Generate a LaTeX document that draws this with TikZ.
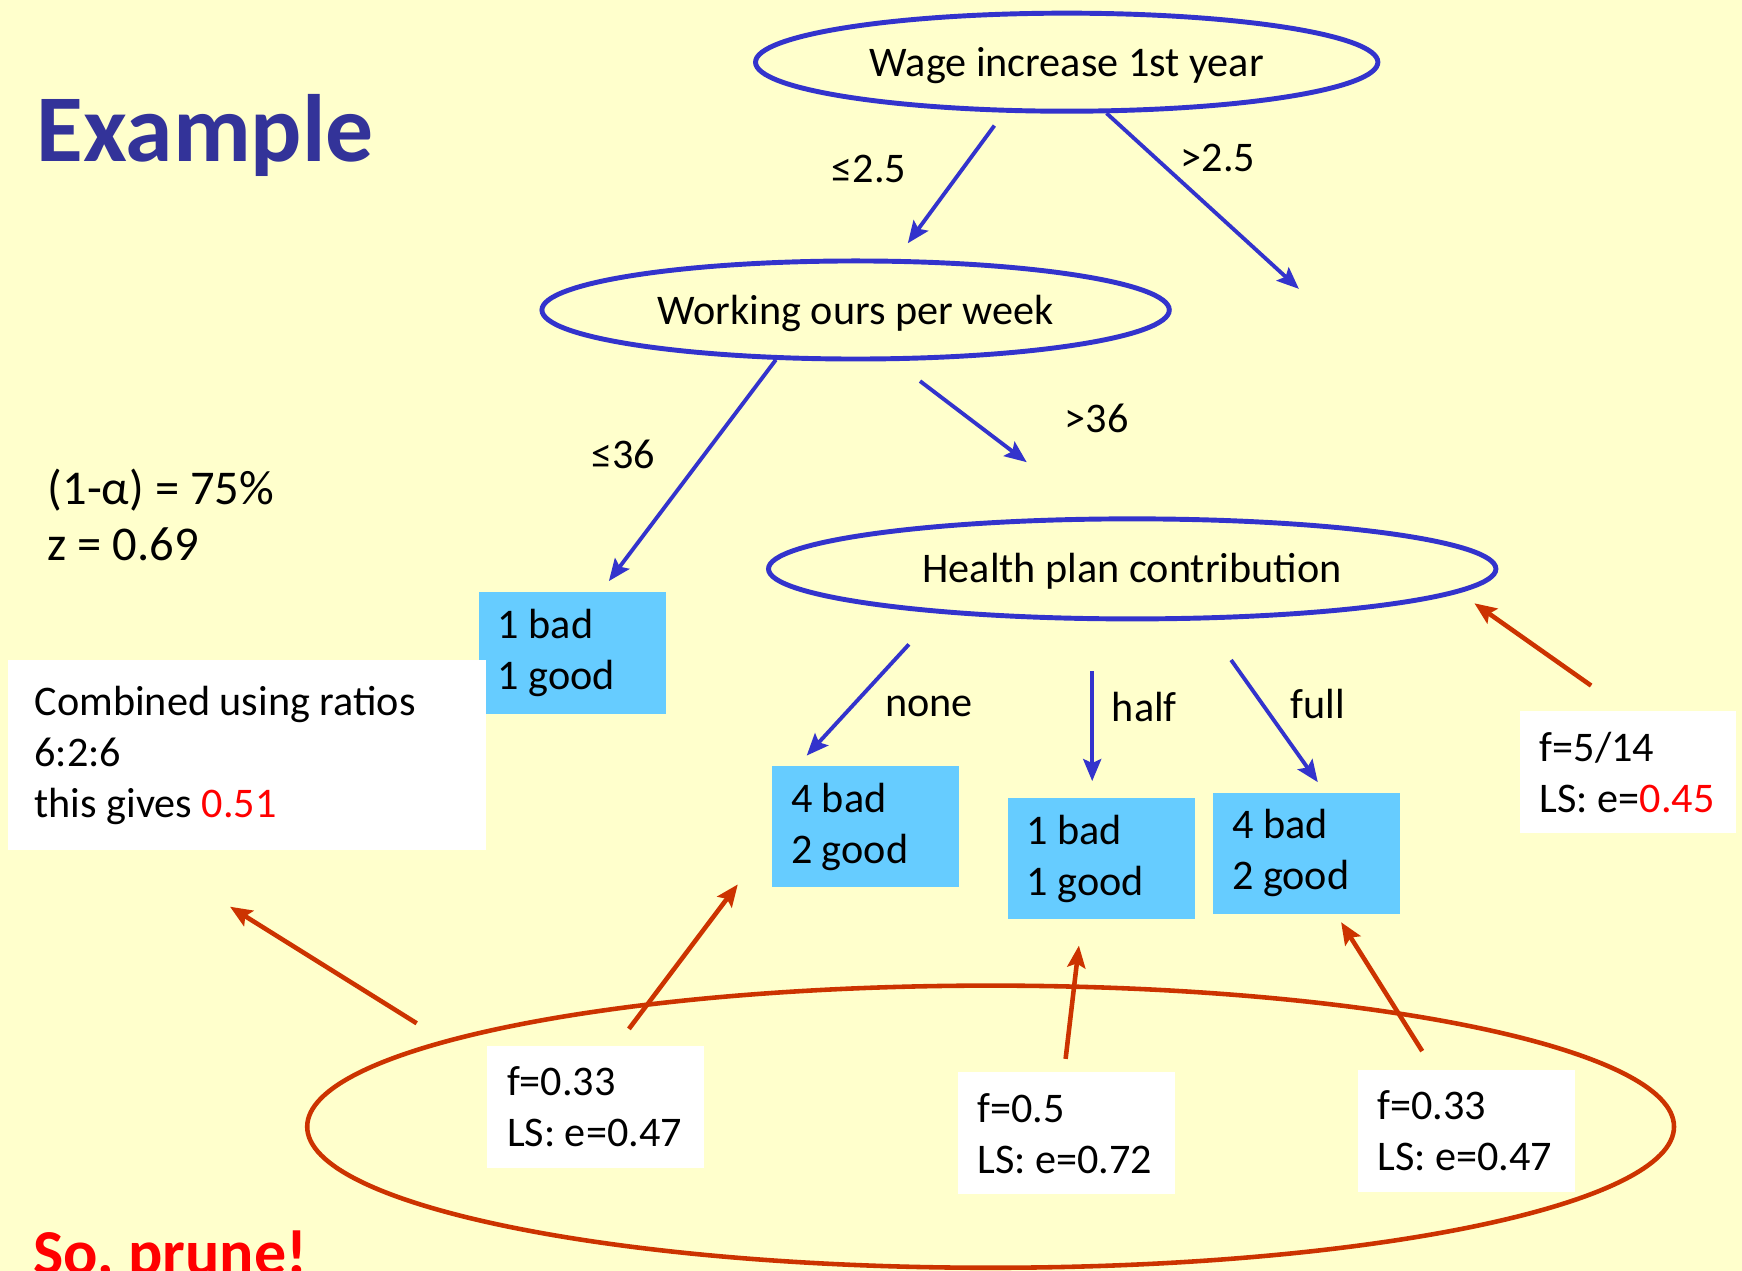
\documentclass[tikz,border=0pt]{standalone}
\usepackage{fontspec}
\setmainfont{Carlito}
\frenchspacing
\usetikzlibrary{shapes.geometric,arrows.meta}
\definecolor{slidebg}{HTML}{FFFFCC}
\definecolor{treeblue}{HTML}{3333CC}
\definecolor{leafblue}{HTML}{66CCFF}
\definecolor{notered}{HTML}{CC3300}
\definecolor{titleblue}{HTML}{333399}
\definecolor{hotred}{HTML}{FF0000}
\tikzset{
  test/.style={ellipse,draw=treeblue,line width=1.4pt,inner sep=0pt,font=\fontsize{12}{14.5}\selectfont,text height=1.0em,text depth=0.2em},
  leaf/.style={fill=leafblue,text width=1.49cm,inner xsep=0.19cm,minimum height=1.21cm,align=flush left},
  note/.style={fill=white,text width=1.77cm,inner xsep=0.2cm,minimum height=1.22cm,align=flush left},
  split/.style={treeblue,line width=1.1pt,-{Stealth[length=2.2mm,width=1.8mm,inset=0.4mm]}},
  back/.style={notered,line width=1.3pt,-{Stealth[length=2.2mm,width=1.8mm,inset=0.4mm]}}
}
\begin{document}
\begin{tikzpicture}[x=0.01cm,y=-0.01cm,font=\fontsize{12}{14.5}\selectfont]
  \useasboundingbox[fill=slidebg] (0,0) rectangle (1742,1271);
  \draw
    (36,162) node[anchor=base west,inner sep=0pt,text=titleblue,font=\fontsize{27.2}{30}\selectfont\bfseries] (title){Example}
    (47,505) node[anchor=base west,inner sep=0pt,font=\fontsize{13.8}{16}\selectfont] (alpha){(1-α) = 75\%}
    (47,561) node[anchor=base west,inner sep=0pt,font=\fontsize{13.8}{16}\selectfont] (zval){z = 0.69}
    (33,1275) node[anchor=base west,inner sep=0pt,text=hotred,font=\fontsize{18.2}{22}\selectfont\bfseries] (prune){So, prune!};
  \draw
    (1066.7,62.2) node[test,minimum width=6.22cm,minimum height=0.98cm] (wage){Wage increase 1st year}
    (855.6,310) node[test,minimum width=6.27cm,minimum height=0.98cm] (hours){Working ours per week}
    (1132.2,568.9) node[test,minimum width=7.27cm,minimum height=1.0cm] (health){Health plan contribution};
  \draw
    (572.3,653) node[leaf] (short){1 bad\\1 good}
    (865.6,826.5) node[leaf] (none){4 bad\\2 good}
    (1101.2,858.8) node[leaf] (half){1 bad\\1 good}
    (1306.7,853.2) node[leaf] (full){4 bad\\2 good};
  \draw
    (868.9,168.9) node (lwl){≤2.5}
    (1217.8,157.8) node (lwr){>2.5}
    (623.3,454.4) node (lhl){≤36}
    (1096.7,418.9) node (lhr){>36}
    (928.9,706.7) node (lnone){none}
    (1144.4,706.7) node (lhalf){half}
    (1317.8,704.4) node (lfull){full};
  \draw
    (990.6,1126.7) node[ellipse,draw=notered,line width=1.3pt,minimum width=13.66cm,minimum height=2.82cm] (subtree){}
    (246.7,755) node[fill=white,text width=4.24cm,inner xsep=0.27cm,minimum height=1.9cm,align=flush left] (combined){Combined using ratios\\6:2:6\\this gives \textcolor{hotred}{0.51}}
    (1627.8,772.2) node[note,text width=1.76cm] (ftop){f=5/14\\LS: e=\textcolor{hotred}{0.45}}
    (595.6,1106.7) node[note] (fnone){f=0.33\\LS: e=0.47}
    (1066.1,1133.3) node[note] (fhalf){f=0.5\\LS: e=0.72}
    (1466.1,1131.1) node[note] (ffull){f=0.33\\LS: e=0.47};
  \coordinate (a1) at (994.4,125.6);
  \coordinate (a2) at (907.8,243.3);
  \coordinate (b2) at (1298.9,288.9);
  \coordinate (c2) at (608.9,581.1);
  \coordinate (d1) at (920,381.1);
  \coordinate (d2) at (1026.7,462.2);
  \coordinate (e1) at (908.9,644.4);
  \coordinate (e2) at (806.7,755.6);
  \coordinate (f1) at (1092.2,671.1);
  \coordinate (f2) at (1092.2,781.1);
  \coordinate (g1) at (1231.1,660);
  \coordinate (g2) at (1317.8,782.2);
  \begin{scope}[split]
    \draw (a1) -- (a2);
    \draw (wage.-52) -- (b2);
    \draw (hours.212) -- (c2);
    \draw (d1) -- (d2);
    \draw (e1) -- (e2);
    \draw (f1) -- (f2);
    \draw (g1) -- (g2);
  \end{scope}
  \coordinate (p1) at (1591.1,685.6);
  \coordinate (p2) at (1474.4,603.3);
  \coordinate (q1) at (416.7,1023.3);
  \coordinate (q2) at (230,906.7);
  \coordinate (r1) at (628.9,1028.9);
  \coordinate (r2) at (737.8,884.4);
  \coordinate (s1) at (1065.6,1058.9);
  \coordinate (s2) at (1078.9,945.6);
  \coordinate (t1) at (1422.2,1051.1);
  \coordinate (t2) at (1341.1,922.2);
  \begin{scope}[back]
    \draw (p1) -- (p2);
    \draw (q1) -- (q2);
    \draw (r1) -- (r2);
    \draw (s1) -- (s2);
    \draw (t1) -- (t2);
  \end{scope}
\end{tikzpicture}
\end{document}
